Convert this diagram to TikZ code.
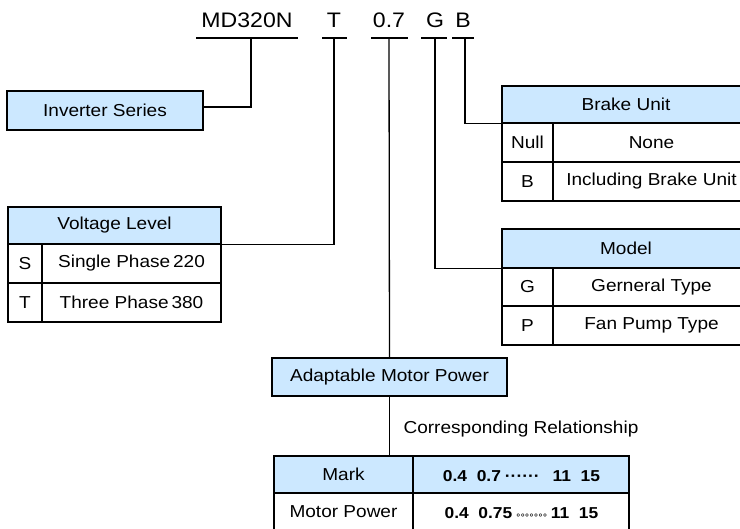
\documentclass[tikz,border=0pt]{standalone}
\usepackage{fontspec}
\setmainfont{Liberation Sans}[FakeStretch=1.1]
\newfontfamily\dejavu{DejaVu Sans}
\definecolor{hdrblue}{RGB}{204,232,255}
\tikzset{
  cell/.style={draw=black, line width=1.3pt, inner sep=0pt, font=\fontsize{17.3}{20}\selectfont},
  hcell/.style={cell, fill=hdrblue},
  conn/.style={draw=black, line width=1.3pt},
  toplab/.style={inner sep=0pt, anchor=base, font=\fontsize{21}{24}\selectfont},
  numtxt/.style={font=\fontsize{15.8}{18}\selectfont\bfseries}
}
\begin{document}
\begin{tikzpicture}[x=1pt,y=-1pt]
\clip (0,0) rectangle (740,529);
\fill[white] (0,0) rectangle (740,529);
% top code
\node[toplab] (l1) at (247,28) {MD320N};
\node[toplab] (l2) at (334,28) {T};
\node[toplab] (l3) at (389,28) {0.7};
\node[toplab] (l4) at (435,28) {G};
\node[toplab] (l5) at (463,28) {B};
\coordinate (u1) at (251,38);
\coordinate (u2) at (334,38);
\coordinate (u3) at (389,38);
\coordinate (u4) at (435,38);
\coordinate (u5) at (465,38);
\draw[conn] (196,38) -- (298,38);
\draw[conn] (322,38) -- (347,38);
\draw[conn] (371,38) -- (408,38);
\draw[conn] (421,38) -- (447,38);
\draw[conn] (452,38) -- (474,38);
% inverter series
\node[hcell, minimum width=196, minimum height=39] (inv) at (105,110.5) {Inverter Series};
% voltage level
\node[hcell, minimum width=213, minimum height=37] (vh) at (114.5,225.5) {Voltage Level};
\node[cell, minimum width=34, minimum height=39] (vs) at (25,263.5) {S};
\node[cell, minimum width=179, minimum height=39] (vsv) at (131.5,263.5) {Single Phase\,220};
\node[cell, minimum width=34, minimum height=39] (vt) at (25,302.5) {T};
\node[cell, minimum width=179, minimum height=39] (vtv) at (131.5,302.5) {Three Phase\,380};
% brake unit
\node[hcell, minimum width=248, minimum height=37] (bh) at (626,104.5) {Brake Unit};
\node[cell, minimum width=51, minimum height=39] (bn) at (527.5,142.5) {Null};
\node[cell, minimum width=197, minimum height=39] (bnv) at (651.5,142.5) {None};
\node[cell, minimum width=51, minimum height=39] (bb) at (527.5,181.5) {B};
\node[cell, minimum width=197, minimum height=39] (bbv) at (651.5,181.5) {Including Brake Unit};
% model
\node[hcell, minimum width=248, minimum height=39] (mh) at (626,248.5) {Model};
\node[cell, minimum width=51, minimum height=38] (mg) at (527.5,287) {G};
\node[cell, minimum width=197, minimum height=38] (mgv) at (651.5,287) {Gerneral Type};
\node[cell, minimum width=51, minimum height=39] (mp) at (527.5,325.5) {P};
\node[cell, minimum width=197, minimum height=39] (mpv) at (651.5,325.5) {Fan Pump Type};
% adaptable motor power
\node[hcell, minimum width=235, minimum height=38] (amp) at (389.5,377) {Adaptable Motor Power};
\node[inner sep=0pt, font=\fontsize{17.3}{20}\selectfont] (cr) at (521,429) {Corresponding Relationship};
% bottom table
\node[hcell, minimum width=139, minimum height=37] (mk) at (343.5,474.5) {Mark};
\node[hcell, minimum width=216, minimum height=37] (mkv) at (521,474.5) {};
\node[numtxt] (mkt) at (521.5,476) {0.4\ \ 0.7\hspace{4pt}\textperiodcentered\textperiodcentered\textperiodcentered\textperiodcentered\textperiodcentered\textperiodcentered\hspace{13pt}11\ \ 15};
\node[cell, minimum width=139, minimum height=38] (mpw) at (343.5,512) {Motor Power};
\node[cell, minimum width=216, minimum height=38] (mpwv) at (521,512) {};
\node[numtxt] (mpt) at (521.5,513) {0.4\ \ 0.75\hspace{3pt}{\dejavu\mdseries\fontsize{9.5}{10}\selectfont ∘\kern-1.5pt∘\kern-1.5pt∘\kern-1.5pt∘\kern-1.5pt∘\kern-1.5pt∘\kern-1.5pt∘}\hspace{3pt}11\ \ 15};
% connectors
\draw[conn] ([yshift=3.5pt]inv.east) -| (u1);
\draw[conn] (vh.south east) -| (u2);
\draw[conn] (u5) |- (bh.south west);
\draw[conn] (u4) |- (mh.south west);
\draw[conn] (u3) -- (amp.north);
\draw[conn] (amp.south) -- (amp.south |- mk.north);
\end{tikzpicture}
\end{document}
